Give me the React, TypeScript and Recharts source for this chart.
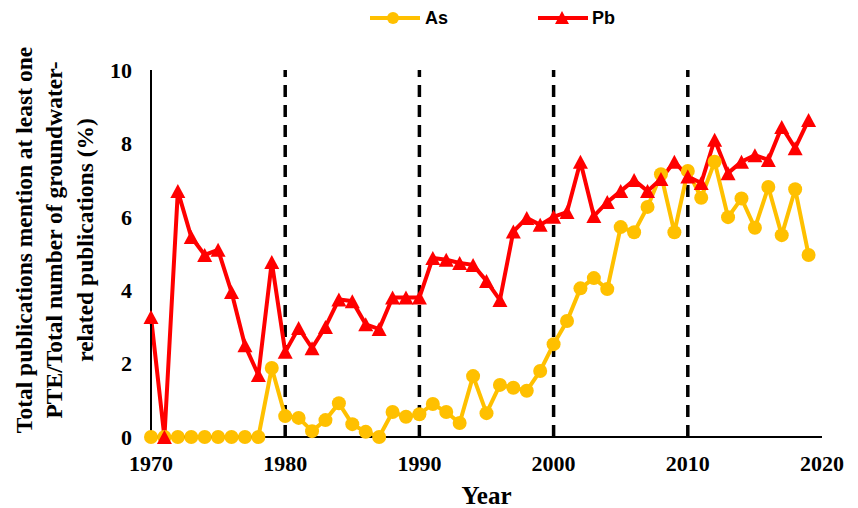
import { Line, LineChart, ReferenceLine, XAxis, YAxis } from 'recharts'

const years = [
  1970, 1971, 1972, 1973, 1974, 1975, 1976, 1977, 1978, 1979,
  1980, 1981, 1982, 1983, 1984, 1985, 1986, 1987, 1988, 1989,
  1990, 1991, 1992, 1993, 1994, 1995, 1996, 1997, 1998, 1999,
  2000, 2001, 2002, 2003, 2004, 2005, 2006, 2007, 2008, 2009,
  2010, 2011, 2012, 2013, 2014, 2015, 2016, 2017, 2018, 2019,
]

const asValues = [
  0, 0, 0, 0, 0, 0, 0, 0, 0, 1.88,
  0.57, 0.52, 0.16, 0.46, 0.92, 0.35, 0.14, 0, 0.68, 0.55,
  0.62, 0.9, 0.68, 0.38, 1.66, 0.65, 1.42, 1.34, 1.26, 1.8,
  2.53, 3.16, 4.05, 4.33, 4.03, 5.72, 5.58, 6.27, 7.16, 5.58,
  7.25, 6.52, 7.5, 5.99, 6.5, 5.7, 6.81, 5.5, 6.75, 4.96,
]

const pbValues = [
  3.27, 0, 6.7, 5.45, 4.96, 5.1, 3.95, 2.5, 1.69, 4.77,
  2.32, 2.97, 2.42, 3.0, 3.75, 3.7, 3.07, 2.94, 3.8, 3.8,
  3.8, 4.88, 4.83, 4.74, 4.69, 4.25, 3.73, 5.6, 5.97, 5.78,
  6.0, 6.13, 7.5, 6.02, 6.4, 6.7, 7.0, 6.7, 7.03, 7.5,
  7.1, 6.92, 8.1, 7.19, 7.5, 7.68, 7.55, 8.45, 7.87, 8.64,
]

const xTicks = [1970, 1980, 1990, 2000, 2010, 2020]
const yTicks = [0, 2, 4, 6, 8, 10]
const decadeMarks = [1980, 1990, 2000, 2010]
const yTitleLines = [
  'Total publications mention at least one',
  'PTE/Total number of groundwater-',
  'related publications (%)',
]

const AS_COLOR = '#FFC000'
const PB_COLOR = '#FF0000'
const SERIF = '"Liberation Serif", "Times New Roman", serif'
const SANS = '"Liberation Sans", Arial, sans-serif'

const data = years.map((year, i) => ({ year, As: asValues[i], Pb: pbValues[i] }))

function TriangleDot(props: any) {
  const { cx, cy, index } = props
  if (cx == null || cy == null) return null
  return (
    <path
      key={`tri-${index}`}
      d={`M${cx},${cy - 7} L${cx + 7.5},${cy + 7} L${cx - 7.5},${cy + 7} Z`}
      fill={PB_COLOR}
    />
  )
}

function YTitle() {
  return (
    <text
      transform="translate(54,240) rotate(-90)"
      textAnchor="middle"
      fontFamily={SERIF}
      fontWeight="bold"
      fontSize={23.5}
      fill="#000"
    >
      {yTitleLines.map((line, i) => (
        <tspan key={line} x={0} y={(i - 1) * 30.5 + 8}>
          {line}
        </tspan>
      ))}
    </text>
  )
}

function LegendOverlay() {
  return (
    <svg width={858} height={36} style={{ position: 'absolute', left: 0, top: 0 }}>
      <line x1={370} y1={18} x2={420} y2={18} stroke={AS_COLOR} strokeWidth={4} />
      <circle cx={393} cy={18} r={6} fill={AS_COLOR} />
      <text x={425} y={24} fontFamily={SANS} fontWeight="bold" fontSize={18} fill="#000">
        As
      </text>
      <line x1={538} y1={18} x2={588} y2={18} stroke={PB_COLOR} strokeWidth={4} />
      <path d="M562,11 L569,24 L555,24 Z" fill={PB_COLOR} />
      <text x={592} y={24} fontFamily={SANS} fontWeight="bold" fontSize={18} fill="#000">
        Pb
      </text>
    </svg>
  )
}

export default function App() {
  return (
    <div style={{ position: 'absolute', left: 0, top: 0, width: 858, height: 508, background: '#fff' }}>
      <LineChart width={858} height={508} data={data} margin={{ top: 70, right: 36, bottom: 0, left: 0 }}>
        <XAxis
          dataKey="year"
          type="number"
          domain={[1970, 2020]}
          ticks={xTicks}
          height={71}
          axisLine={{ stroke: '#000', strokeWidth: 2 }}
          tickLine={false}
          tickSize={0}
          tickMargin={18}
          tick={{ fontFamily: SERIF, fontWeight: 'bold', fontSize: 22, fill: '#000' }}
          label={{
            value: 'Year',
            position: 'insideBottom',
            offset: 0,
            dy: -4,
            style: { fontFamily: SERIF, fontWeight: 'bold', fontSize: 25, fill: '#000' },
          }}
        />
        <YAxis
          type="number"
          domain={[0, 10]}
          ticks={yTicks}
          width={151}
          axisLine={{ stroke: '#000', strokeWidth: 2 }}
          tickLine={false}
          tickSize={0}
          tickMargin={19}
          tick={{ fontFamily: SERIF, fontWeight: 'bold', fontSize: 22, fill: '#000' }}
          label={{ content: () => <YTitle /> }}
        />
        {decadeMarks.map(x => (
          <ReferenceLine key={x} x={x} stroke="#000" strokeWidth={3.5} strokeDasharray="12 8" />
        ))}
        <Line
          dataKey="As"
          stroke={AS_COLOR}
          strokeWidth={4}
          dot={{ r: 7, fill: AS_COLOR, stroke: AS_COLOR, strokeWidth: 0 }}
          activeDot={false}
          isAnimationActive={false}
        />
        <Line
          dataKey="Pb"
          stroke={PB_COLOR}
          strokeWidth={4}
          dot={<TriangleDot />}
          activeDot={false}
          isAnimationActive={false}
        />
      </LineChart>
      <LegendOverlay />
    </div>
  )
}
